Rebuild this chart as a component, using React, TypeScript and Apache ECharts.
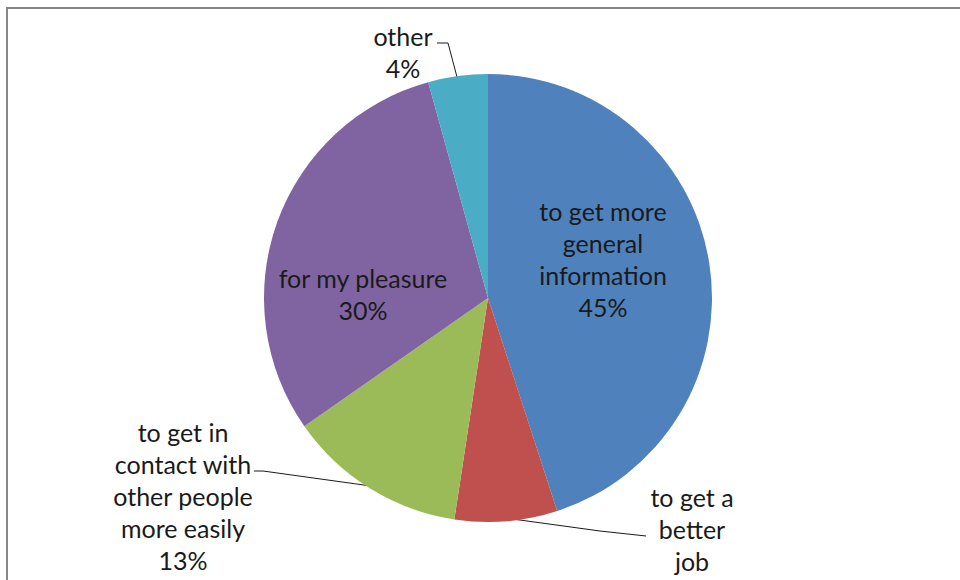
import React, { useEffect, useRef } from "react";
import * as echarts from "echarts";

const categories = [
  "to get more general information",
  "to get a better job",
  "to get in contact with other people more easily",
  "for my pleasure",
  "other",
];
const labelTexts = [
  "to get more\ngeneral\ninformation",
  "to get a\nbetter\njob",
  "to get in\ncontact with\nother people\nmore easily",
  "for my pleasure",
  "other",
];
const values = [45, 7.4, 12.9, 30.4, 4.3];
const colors = ["#4F81BD", "#C0504D", "#9BBB59", "#8064A2", "#4BACC6"];

// label anchor positions (text block centres) and leader lines
const labelPos: [number, number][] = [
  [603, 259],
  [692, 545],
  [183, 496],
  [363, 294],
  [403, 52],
];
const leaderLines: ([number, number][] | null)[] = [
  null,
  [[505, 518], [600, 531], [646, 536]],
  [[371, 486], [263, 471], [254, 471]],
  null,
  [[457, 77], [448, 43], [437, 43]],
];

export default function App() {
  const ref = useRef<HTMLDivElement>(null);
  useEffect(() => {
    if (!ref.current) return;
    const chart = echarts.init(ref.current, null, { renderer: "svg" });
    const total = values.reduce((a, b) => a + b, 0);
    chart.setOption({
      animation: false,
      backgroundColor: "#ffffff",
      graphic: [
        {
          type: "rect",
          shape: { x: 7, y: 8, width: 1000, height: 1000 },
          style: { fill: "none", stroke: "#878787", lineWidth: 2 },
          silent: true,
        },
      ],
      series: [
        {
          type: "pie",
          center: [488, 298],
          radius: 224,
          startAngle: 90,
          clockwise: true,
          avoidLabelOverlap: false,
          label: {
            show: true,
            fontFamily: "Lato",
            fontSize: 25,
            lineHeight: 32,
            color: "#1a1a1a",
            align: "center",
          },
          labelLine: {
            show: true,
            lineStyle: { color: "#1a1a1a", width: 1 },
          },
          labelLayout: (params: any) => {
            const i = params.dataIndex;
            const res: any = {
              x: labelPos[i][0],
              y: labelPos[i][1],
              align: "center",
              verticalAlign: "middle",
            };
            if (leaderLines[i]) res.labelLinePoints = leaderLines[i];
            return res;
          },
          data: categories.map((name, i) => ({
            name,
            value: values[i],
            itemStyle: { color: colors[i] },
            label: {
              formatter: () =>
                labelTexts[i] + "\n" + Math.round((values[i] / total) * 100) + "%",
            },
            labelLine: { show: !!leaderLines[i] },
          })),
        },
      ],
    });
    return () => chart.dispose();
  }, []);
  return (
    <div
      ref={ref}
      style={{ position: "fixed", left: 0, top: 0, width: 960, height: 580 }}
    />
  );
}
